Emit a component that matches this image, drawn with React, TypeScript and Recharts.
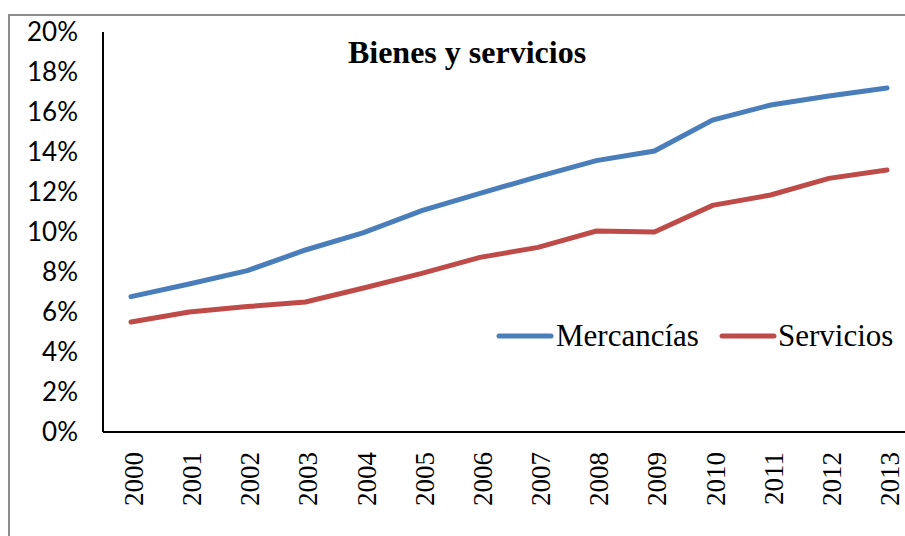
import React from 'react';
import { LineChart, Line, XAxis, YAxis } from 'recharts';

const years = ['2000', '2001', '2002', '2003', '2004', '2005', '2006', '2007', '2008', '2009', '2010', '2011', '2012', '2013'];
const mercancias = [6.77, 7.4, 8.07, 9.1, 9.97, 11.07, 11.93, 12.77, 13.57, 14.05, 15.6, 16.35, 16.8, 17.2];
const servicios = [5.5, 6.0, 6.27, 6.5, 7.2, 7.93, 8.73, 9.23, 10.05, 10.0, 11.33, 11.85, 12.68, 13.1];
const yTicks = [0, 2, 4, 6, 8, 10, 12, 14, 16, 18, 20];

const data = years.map((year, i) => ({ year, mercancias: mercancias[i], servicios: servicios[i] }));

const BLUE = '#4A7EBB';
const RED = '#BE4B48';
const SERIF = "'Liberation Serif', 'Times New Roman', serif";

const YearTick = (props: any) => {
  const { x, y, payload } = props;
  return (
    <text
      x={x}
      y={y}
      dy={12}
      transform={`rotate(-90, ${x}, ${y})`}
      textAnchor="end"
      fill="#000"
      fontFamily={SERIF}
      fontSize={27}
    >
      {payload.value}
    </text>
  );
};

export default function App() {
  return (
    <div style={{ position: 'absolute', left: 0, top: 0, width: 905, height: 536, overflow: 'hidden', background: '#fff' }}>
      {/* chart frame, only its top and left edges are in the picture */}
      <div
        style={{
          position: 'absolute',
          left: 8,
          top: 14,
          width: 1000,
          height: 1000,
          border: '2px solid #8c8c8c',
        }}
      />
      <div style={{ position: 'absolute', left: 0, top: 0 }}>
        <LineChart width={930} height={536} data={data} margin={{ top: 32, right: 12, bottom: 14, left: 0 }}>
          <XAxis
            dataKey="year"
            height={90}
            padding={{ left: 28, right: 31 }}
            axisLine={{ stroke: '#000', strokeWidth: 2 }}
            tickLine={false}
            tickSize={0}
            tickMargin={20}
            interval={0}
            tick={<YearTick />}
          />
          <YAxis
            width={103}
            domain={[0, 20]}
            ticks={yTicks}
            interval={0}
            tickFormatter={(v: number) => `${v}%`}
            axisLine={{ stroke: '#000', strokeWidth: 2 }}
            tickLine={false}
            tickSize={0}
            tickMargin={25}
            tick={{ fill: '#000', fontSize: 26, fontFamily: 'Lato, sans-serif' }}
          />
          <Line
            dataKey="mercancias"
            name="Mercancías"
            stroke={BLUE}
            strokeWidth={5}
            strokeLinecap="round"
            dot={false}
            type="linear"
            isAnimationActive={false}
          />
          <Line
            dataKey="servicios"
            name="Servicios"
            stroke={RED}
            strokeWidth={5}
            strokeLinecap="round"
            dot={false}
            type="linear"
            isAnimationActive={false}
          />
        </LineChart>
      </div>
      <svg width={905} height={536} style={{ position: 'absolute', left: 0, top: 0, pointerEvents: 'none' }}>
        <text x={467} y={63} textAnchor="middle" fontFamily={SERIF} fontWeight="bold" fontSize={32} fill="#000">
          Bienes y servicios
        </text>
        {/* legend */}
        <line x1={499} y1={336} x2={551} y2={336} stroke={BLUE} strokeWidth={5} strokeLinecap="round" />
        <text x={556} y={346} fontFamily={SERIF} fontSize={31} fill="#000">
          Mercancías
        </text>
        <line x1={722} y1={336} x2={774} y2={336} stroke={RED} strokeWidth={5} strokeLinecap="round" />
        <text x={778} y={346} fontFamily={SERIF} fontSize={31} fill="#000">
          Servicios
        </text>
      </svg>
    </div>
  );
}
